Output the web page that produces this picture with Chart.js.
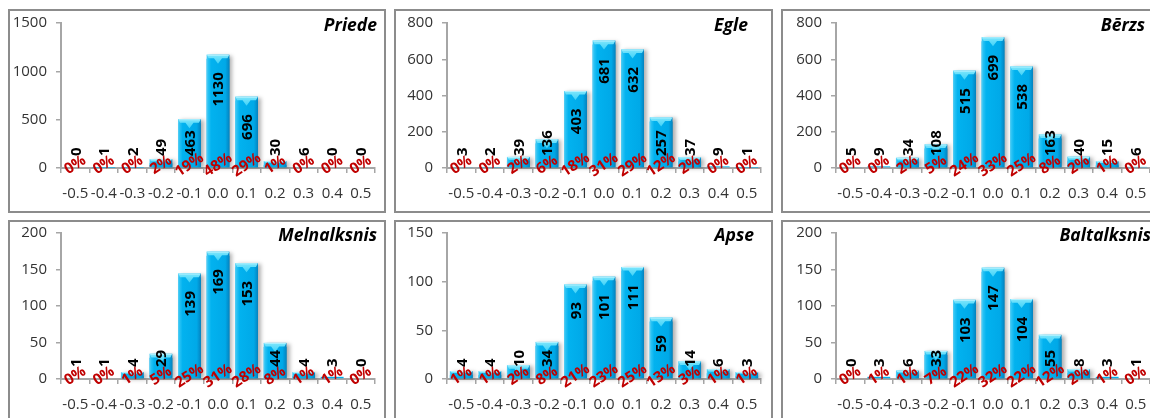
<!DOCTYPE html>
<html><head><meta charset="utf-8">
<script src="https://cdn.jsdelivr.net/npm/chart.js@4.4.1/dist/chart.umd.min.js"></script>
<style>
html,body{margin:0;padding:0;background:#fff;width:1150px;height:418px;overflow:hidden;position:relative;font-family:'Open Sans'}
.panel{position:absolute;border:2px solid #8c8c8c;box-sizing:border-box;background:#fff}
.panel canvas{display:block}
</style></head><body>
<script>
const categories = ['-0.5','-0.4','-0.3','-0.2','-0.1','0.0','0.1','0.2','0.3','0.4','0.5'];
const speciesNames = ['Priede','Egle','Bērzs','Melnalksnis','Apse','Baltalksnis'];

const priedeValues      = [0, 1, 2, 49, 463, 1130, 696, 30, 6, 0, 0];
const egleValues        = [3, 2, 39, 136, 403, 681, 632, 257, 37, 9, 1];
const berzsValues       = [5, 9, 34, 108, 515, 699, 538, 163, 40, 15, 6];
const melnalksnisValues = [1, 1, 4, 29, 139, 169, 153, 44, 4, 3, 0];
const apseValues        = [4, 4, 10, 34, 93, 101, 111, 59, 14, 6, 3];
const baltalksnisValues = [0, 3, 6, 33, 103, 147, 104, 55, 8, 3, 1];

const priedePct      = [0, 0, 0, 2, 19, 48, 29, 1, 0, 0, 0];
const eglePct        = [0, 0, 2, 6, 18, 31, 29, 12, 2, 0, 0];
const berzsPct       = [0, 0, 2, 5, 24, 33, 25, 8, 2, 1, 0];
const melnalksnisPct = [0, 0, 1, 5, 25, 31, 28, 8, 1, 1, 0];
const apsePct        = [1, 1, 2, 8, 21, 23, 25, 13, 3, 1, 1];
const baltalksnisPct = [0, 1, 1, 7, 22, 32, 22, 12, 2, 1, 0];

const yAxisMax  = [1500, 800, 800, 200, 150, 200];
const yAxisStep = [500, 200, 200, 50, 50, 50];

const seriesValues = [priedeValues, egleValues, berzsValues, melnalksnisValues, apseValues, baltalksnisValues];
const seriesPct = [priedePct, eglePct, berzsPct, melnalksnisPct, apsePct, baltalksnisPct];

// layout (styles only)
const panelBoxes = [
  {left:8,   top:9,   w:378, h:204, yw:51, padTop:12, tdx:2},
  {left:394, top:9,   w:379, h:204, yw:51, padTop:12, tdx:-13},
  {left:781, top:9,   w:378, h:204, yw:53, padTop:12, tdx:-5},
  {left:8,   top:220, w:378, h:204, yw:51, padTop:11, tdx:2},
  {left:394, top:220, w:379, h:204, yw:51, padTop:11, tdx:-7},
  {left:781, top:220, w:378, h:204, yw:53, padTop:11, tdx:1}
];

const axisColor = '#a6a6a6';
const tickColor = '#333333';
const FONT = 'Open Sans';

const decorPlugin = {
  id: 'decor',
  afterDatasetsDraw(chart, args, opts) {
    const c = chart.ctx;
    const meta = chart.getDatasetMeta(0);
    const yScale = chart.scales.y;
    const axisY = yScale.getPixelForValue(0);
    // bar styling overlay
    meta.data.forEach((bar) => {
      const h = bar.base - bar.y;
      if (h < 1.5) return;
      const x0 = bar.x - bar.width / 2, x1 = bar.x + bar.width / 2;
      const t = bar.y - 4;
      c.save();
      c.shadowColor = 'rgba(0,0,0,0.30)';
      c.shadowBlur = 4; c.shadowOffsetX = 3; c.shadowOffsetY = 1;
      const g = c.createLinearGradient(x0, 0, x1, 0);
      g.addColorStop(0, '#5fd0f4');
      g.addColorStop(0.07, '#28c2f4');
      g.addColorStop(0.2, '#02b2ef');
      g.addColorStop(0.82, '#00a9e8');
      g.addColorStop(1, '#0483c0');
      c.fillStyle = g;
      c.fillRect(x0, t, bar.width, bar.base - t);
      c.restore();
      const capH = Math.min(9, (bar.base - t) * 0.7);
      const cg = c.createLinearGradient(0, t, 0, t + capH);
      cg.addColorStop(0, '#7ee6fc');
      cg.addColorStop(1, '#3fd2f8');
      c.fillStyle = cg;
      c.beginPath();
      c.moveTo(x0, t); c.lineTo(x1, t);
      c.lineTo(x1 - 2, t + capH * 0.4);
      c.lineTo(bar.x + 4, t + capH * 0.4);
      c.lineTo(bar.x, t + capH);
      c.lineTo(bar.x - 4, t + capH * 0.4);
      c.lineTo(x0 + 2, t + capH * 0.4);
      c.closePath(); c.fill();
      c.fillStyle = '#b4f2ff';
      c.fillRect(x0 + 1, t, bar.width - 2, 1);
    });
    // value labels
    const vals = chart.data.datasets[0].data;
    c.font = 'bold 15px "' + FONT + '"';
    c.fillStyle = '#000';
    vals.forEach((v, i) => {
      const bar = meta.data[i];
      const txt = String(v);
      const len = c.measureText(txt).width;
      const bottom = Math.min(bar.y + 13.5 + len, axisY - 12);
      c.save();
      c.translate(bar.x + 1, bottom);
      c.rotate(-Math.PI / 2);
      c.textAlign = 'left'; c.textBaseline = 'middle';
      c.fillText(txt, 0, 0);
      c.restore();
    });
    // percentage labels
    c.font = 'bold 15px "' + FONT + '"';
    c.fillStyle = '#c00000';
    opts.pct.forEach((p, i) => {
      const bar = meta.data[i];
      c.save();
      c.translate(bar.x, axisY - 3);
      c.rotate(-33 * Math.PI / 180);
      c.textAlign = 'center'; c.textBaseline = 'middle';
      c.fillText(p + '%', 0, 0);
      c.restore();
    });
  },
  afterDraw(chart, args, opts) {
    const c = chart.ctx;
    c.save();
    c.font = 'italic bold 17.5px "' + FONT + '"';
    c.fillStyle = '#000';
    c.textAlign = 'right'; c.textBaseline = 'middle';
    c.fillText(opts.title, chart.chartArea.right + opts.tdx, chart.chartArea.top + 3);
    c.restore();
  }
};

panelBoxes.forEach((pb, k) => {
  const div = document.createElement('div');
  div.className = 'panel';
  div.style.left = pb.left + 'px'; div.style.top = pb.top + 'px';
  div.style.width = pb.w + 'px'; div.style.height = pb.h + 'px';
  const iw = pb.w - 4, ih = pb.h - 4;
  const cv = document.createElement('canvas');
  cv.width = iw; cv.height = ih;
  cv.style.width = iw + 'px'; cv.style.height = ih + 'px';
  div.appendChild(cv);
  document.body.appendChild(div);
  new Chart(cv.getContext('2d'), {
    type: 'bar',
    data: {
      labels: categories,
      datasets: [{
        data: seriesValues[k],
        backgroundColor: '#00b0f0',
        borderWidth: 0,
        barPercentage: 0.8,
        categoryPercentage: 1.0
      }]
    },
    options: {
      responsive: false,
      animation: false,
      devicePixelRatio: 1,
      layout: { padding: { top: pb.padTop, right: iw - pb.yw - 314, left: 0, bottom: 0 } },
      plugins: {
        legend: { display: false },
        tooltip: { enabled: false },
        title: { display: false },
        decor: { pct: seriesPct[k], title: speciesNames[k], tdx: pb.tdx }
      },
      scales: {
        x: {
          offset: true,
          grid: { display: true, drawOnChartArea: false, drawTicks: true, tickLength: 5, color: axisColor, offset: true, lineWidth: 1.5 },
          border: { display: true, color: axisColor, width: 2 },
          ticks: { color: tickColor, font: { family: FONT, size: 15 }, padding: 12, maxRotation: 0, minRotation: 0, autoSkip: false },
          afterFit(s) { s.height = 43; s.paddingLeft = 0; s.paddingRight = 0; }
        },
        y: {
          min: 0, max: yAxisMax[k],
          grid: { display: true, drawOnChartArea: false, drawTicks: true, tickLength: 5, color: axisColor, lineWidth: 1.5 },
          border: { display: true, color: axisColor, width: 2 },
          ticks: { stepSize: yAxisStep[k], color: tickColor, font: { family: FONT, size: 15 }, padding: 9,
                   callback: (v) => String(v) },
          afterFit(s) { s.width = pb.yw; s.paddingTop = 0; s.paddingBottom = 0; }
        }
      }
    },
    plugins: [decorPlugin]
  });
});
</script>
</body></html>
